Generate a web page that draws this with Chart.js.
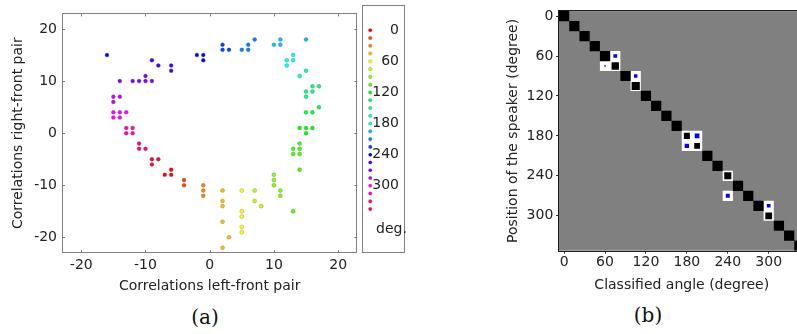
<!DOCTYPE html>
<html><head><meta charset="utf-8">
<script src="https://cdn.jsdelivr.net/npm/chart.js@4"></script>
<style>
html,body{margin:0;padding:0;background:#fff;overflow:hidden;width:797px;height:334px;position:relative;}
.abs{position:absolute;}
.lbl{position:absolute;font-family:'DejaVu Serif','Liberation Serif',serif;font-size:20px;line-height:24px;color:#111;text-align:center;width:60px;}
#legBox{position:absolute;left:362px;top:5px;width:41px;height:246px;border:1px solid #808080;}
#deg{position:absolute;left:376px;top:220px;font-family:'DejaVu Sans',sans-serif;font-size:14px;line-height:16px;color:#222;}
</style></head><body>
<canvas id="cA" class="abs" width="362" height="300" style="left:0;top:0"></canvas>
<div id="legBox"><canvas id="cL" width="41" height="246"></canvas></div>
<div id="deg">deg.</div>
<canvas id="cB" class="abs" width="316" height="300" style="left:490px;top:0"></canvas>
<div class="lbl" style="left:175px;top:305px">(a)</div>
<div class="lbl" style="left:618px;top:303px">(b)</div>
<script>
const FONT = "'DejaVu Sans', sans-serif";
const TXT = '#222';

// Speaker angles (degree), 15° steps
const angles = [0,15,30,45,60,75,90,105,120,135,150,165,180,195,210,225,240,255,270,285,300,315,330,345];

// Panel (a): correlations per angle
const corrLeftFront = [
  [-6,-6,-7],
  [-4,-4],
  [-1,-1,-1],
  [2,2,2,2,3,2],
  [5,5,5,5,5],
  [7,7,8],
  [10,10,10,11,11],
  [14,13,14,13,14,14,13],
  [14,15,16,15],
  [17,15,16],
  [16,17,15,16,15],
  [14,15],
  [13,12,13,12],
  [10,11,11,15],
  [5,6,6,7],
  [2,2,3],
  [-16,-2,-1,-1],
  [-9,-8,-6,-6],
  [-14,-12,-11,-10,-10,-9],
  [-15,-14,-15],
  [-15,-14,-13,-15,-14],
  [-13,-12,-13,-12],
  [-11,-11,-10],
  [-9,-8,-9]
];
const corrRightFront = [
  [-7,-8,-8],
  [-9,-10],
  [-10,-11,-12],
  [-11,-13,-14,-17,-20,-22],
  [-11,-15,-16,-18,-19],
  [-11,-13,-14],
  [-8,-9,-10,-11,-12],
  [-2,-3,-3,-4,-4,-7,-15],
  [1,1,1,0],
  [5,4,4],
  [9,9,8,8,7],
  [11,12],
  [15,14,14,13],
  [17,18,17,18],
  [16,17,16,18],
  [17,16,16],
  [15,15,15,14],
  [14,13,13,12],
  [10,10,10,11,10,10],
  [7,7,6],
  [4,4,4,3,3],
  [1,1,0,0],
  [-2,-3,-3],
  [-5,-5,-6]
];
const ticksA = [-20,-10,0,10,20];
const legendTicks = [0,60,120,180,240,300];

// Panel (b): classification matrix
const matrixTicks = [0,60,120,180,240,300];
const diagScore = [1,1,1,1,1,0.72,1,0.8,1,1,1,1,0.59,0.56,1,1,0.69,1,1,1,0.66,1,1,1];
const errClassified = [75,60,105,195,180,240,300];
const errPosition   = [60,75,90,180,195,270,285];
const errScore      = [0.36,0.15,0.33,0.46,0.42,0.39,0.36];

function hueColor(a){ return 'hsl(' + a + ',100%,50%)'; }
const fixTicks = arr => s => { s.ticks = arr.map(v => ({value: v})); };

// ---------- Panel (a) ----------
const frameA = {
  id: 'frameA',
  afterDraw(chart) {
    const {ctx, chartArea: a, scales: {x, y}} = chart;
    ctx.save();
    ctx.strokeStyle = '#808080';
    ctx.lineWidth = 1;
    ctx.strokeRect(Math.round(a.left) + 0.5, Math.round(a.top) + 0.5, Math.round(a.right - a.left) - 1, Math.round(a.bottom - a.top) - 1);
    ctx.beginPath();
    const L = 3;
    x.ticks.forEach(t => {
      const p = Math.round(x.getPixelForValue(t.value)) + 0.5;
      ctx.moveTo(p, a.bottom); ctx.lineTo(p, a.bottom - L);
      ctx.moveTo(p, a.top); ctx.lineTo(p, a.top + L);
    });
    y.ticks.forEach(t => {
      const p = Math.round(y.getPixelForValue(t.value)) + 0.5;
      ctx.moveTo(a.left, p); ctx.lineTo(a.left + L, p);
      ctx.moveTo(a.right, p); ctx.lineTo(a.right - L, p);
    });
    ctx.stroke();
    ctx.restore();
  }
};

new Chart(document.getElementById('cA'), {
  type: 'scatter',
  data: {
    datasets: angles.map((a, i) => ({
      label: a + '°',
      data: corrLeftFront[i].map((vx, j) => ({x: vx, y: corrRightFront[i][j]})),
      backgroundColor: hueColor(a),
      borderColor: 'rgba(110,110,110,0.55)',
      borderWidth: 0.6,
      pointRadius: 2
    }))
  },
  options: {
    responsive: false, animation: false, events: [],
    layout: {padding: {top: 5, right: 3, left: 0, bottom: 0}},
    plugins: {legend: {display: false}, tooltip: {enabled: false}},
    scales: {
      x: {
        type: 'linear', min: -23, max: 23,
        afterBuildTicks: fixTicks(ticksA),
        afterFit: s => { s.height = 47; },
        grid: {display: false, drawTicks: false}, border: {display: false},
        ticks: {padding: 4, color: TXT, font: {family: FONT, size: 14}},
        title: {display: true, text: 'Correlations left-front pair', color: TXT,
                font: {family: FONT, size: 14}, padding: {top: 0, bottom: 5.6}}
      },
      y: {
        type: 'linear', min: -23, max: 23,
        afterBuildTicks: fixTicks(ticksA),
        afterFit: s => { s.width = 62; },
        grid: {display: false, drawTicks: false}, border: {display: false},
        ticks: {padding: 5, color: TXT, font: {family: FONT, size: 14}},
        title: {display: true, text: 'Correlations right-front pair', color: TXT,
                font: {family: FONT, size: 14}, padding: {top: 10, bottom: 0}}
      }
    }
  },
  plugins: [frameA]
});

// ---------- Legend of panel (a) ----------
new Chart(document.getElementById('cL'), {
  type: 'scatter',
  data: {
    datasets: [{
      label: 'angle',
      data: angles.map(a => ({x: 0, y: a})),
      pointBackgroundColor: angles.map(hueColor),
      pointBorderColor: 'rgba(110,110,110,0.5)',
      pointBorderWidth: 0.5,
      pointRadius: 1.8
    }]
  },
  options: {
    responsive: false, animation: false, events: [],
    layout: {padding: {top: 0, right: 5, left: 0, bottom: 0}},
    plugins: {legend: {display: false}, tooltip: {enabled: false}},
    scales: {
      x: {type: 'linear', display: false, min: -1, max: 1},
      y: {
        type: 'linear', position: 'right', reverse: true, min: -30.55, max: 411.5,
        afterBuildTicks: fixTicks(legendTicks),
        afterFit: s => { s.width = 26; },
        grid: {display: false, drawTicks: false}, border: {display: false},
        ticks: {crossAlign: 'far', padding: 0, color: TXT, font: {family: FONT, size: 14}}
      }
    }
  }
});

// ---------- Panel (b) ----------
function cellRadius(ctx) {
  if (!ctx.raw) return 0;
  const s = ctx.chart.scales.x;
  const cell = Math.abs(s.getPixelForValue(15) - s.getPixelForValue(0));
  return ctx.raw.v * cell / Math.SQRT2;
}
const frameB = {
  id: 'frameB',
  beforeDatasetsDraw(chart) {
    const {ctx, chartArea: a} = chart;
    ctx.save();
    ctx.fillStyle = '#808080';
    ctx.fillRect(a.left, a.top, a.right - a.left, a.bottom - a.top);
    ctx.restore();
  },
  afterDraw(chart) {
    const {ctx, chartArea: a} = chart;
    ctx.save();
    ctx.strokeStyle = '#1a1a1a';
    ctx.lineWidth = 1;
    ctx.strokeRect(Math.round(a.left) - 0.5, Math.round(a.top) - 0.5, Math.round(a.right - a.left) + 1, Math.round(a.bottom - a.top) + 1);
    ctx.restore();
  }
};

const diagCells = angles.map((a, i) => ({x: a, y: a, v: diagScore[i]}));
const errCells = errClassified.map((c, i) => ({x: c, y: errPosition[i], v: errScore[i]}));
const whiteCells = diagCells.filter(p => p.v < 1).concat(errCells).map(p => ({x: p.x, y: p.y, v: 1}));

new Chart(document.getElementById('cB'), {
  type: 'scatter',
  data: {
    datasets: [
      {label: 'correct', data: diagCells, backgroundColor: '#000', pointStyle: 'rect',
       pointRadius: cellRadius, borderWidth: 0, order: 1},
      {label: 'confused', data: errCells, backgroundColor: '#0000ff', pointStyle: 'rect',
       pointRadius: cellRadius, borderWidth: 0, order: 1},
      {label: 'cell', data: whiteCells, backgroundColor: '#ffffff', pointStyle: 'rect',
       pointRadius: cellRadius, borderWidth: 0, order: 2}
    ]
  },
  options: {
    responsive: false, animation: false, events: [],
    layout: {padding: {top: 5.9, right: 1.5, left: 0, bottom: 0}},
    plugins: {legend: {display: false}, tooltip: {enabled: false}},
    scales: {
      x: {
        type: 'linear', min: -7.5, max: 352.5,
        afterBuildTicks: fixTicks(matrixTicks),
        afterFit: s => { s.height = 49.3; },
        grid: {display: true, drawOnChartArea: false, drawTicks: true, tickLength: 3, color: '#333'},
        border: {display: false},
        ticks: {padding: 0.5, color: TXT, font: {family: FONT, size: 14}},
        title: {display: true, text: 'Classified angle (degree)', color: TXT,
                font: {family: FONT, size: 14}, padding: {top: 0, bottom: 6}}
      },
      y: {
        type: 'linear', min: -7.5, max: 352.5, reverse: true,
        afterBuildTicks: fixTicks(matrixTicks),
        afterFit: s => { s.width = 69; },
        grid: {display: true, drawOnChartArea: false, drawTicks: true, tickLength: 3, color: '#333'},
        border: {display: false},
        ticks: {padding: 2.7, color: TXT, font: {family: FONT, size: 14}},
        title: {display: true, text: 'Position of the speaker (degree)', color: TXT,
                font: {family: FONT, size: 14}, padding: {top: 14.6, bottom: 0}}
      }
    }
  },
  plugins: [frameB]
});
</script>
</body></html>
